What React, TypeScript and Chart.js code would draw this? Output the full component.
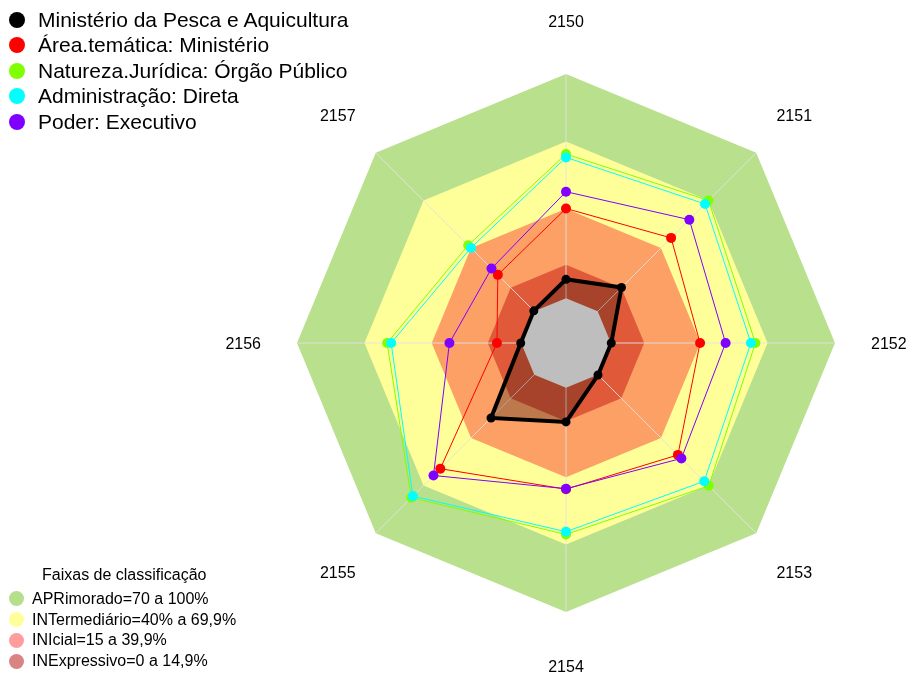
import React, { useEffect, useRef } from "react";
import { Chart, registerables } from "chart.js";

Chart.register(...registerables);

// ---------- data ----------
const axisLabels = ["2150", "2151", "2152", "2153", "2154", "2155", "2156", "2157"];

const ministerio = [8.4, 15, 0.2, 0.2, 15.2, 27.3, 0.2, 0.3];
const areaTematica = [40, 46.3, 39.8, 50.6, 45.2, 59.3, 10.8, 23];
const naturezaJuridica = [64.3, 69.9, 64.5, 70.1, 65.4, 77.6, 59.8, 41.7];
const administracao = [62.8, 67.7, 62.5, 67.2, 64.2, 76.6, 58, 40];
const poder = [47.5, 57.8, 51.2, 52.8, 45, 63.6, 32, 27];

const seriesNames = [
  "Ministério da Pesca e Aquicultura",
  "Área.temática: Ministério",
  "Natureza.Jurídica: Órgão Público",
  "Administração: Direta",
  "Poder: Executivo",
];
const seriesColors = ["#000000", "#FF0000", "#7FFF00", "#00FFFF", "#8000FF"];

// classification bands (upper limit of each band), plus the centre (0)
const bandLimits = [100, 69.9, 39.9, 14.9];
const centreValue = 0;
const bandColors = ["#B9E08C", "#FFFF99", "#FCA066", "#E05A3A"];
const centreColor = "#BEBEBE";

const bandLegendTitle = "Faixas de classificação";
const bandLegendLabels = [
  "APRimorado=70 a 100%",
  "INTermediário=40% a 69,9%",
  "INIcial=15 a 39,9%",
  "INExpressivo=0 a 14,9%",
];
const bandLegendColors = ["#B5DF8A", "#FFFF99", "#FF9C9C", "#D98383"];

const scaleMin = -20;
const scaleMax = 100;

const FONT = '"Liberation Sans", Arial, sans-serif';

export default function App() {
  const canvasRef = useRef<HTMLCanvasElement | null>(null);

  useEffect(() => {
    const canvas = canvasRef.current;
    if (!canvas) return;

    const bandDatasets = bandLimits.map((lim, i) => ({
      label: "band" + i,
      data: axisLabels.map(() => lim),
      backgroundColor: bandColors[i],
      borderColor: "transparent",
      borderWidth: 0,
      pointRadius: 0,
      fill: "start",
      order: 20 - i,
    }));

    const blackFill = {
      label: "blackFill",
      data: ministerio,
      backgroundColor: "rgba(0,0,0,0.25)",
      borderColor: "transparent",
      borderWidth: 0,
      pointRadius: 0,
      fill: "start",
      order: 15,
    };

    const centre = {
      label: "centre",
      data: axisLabels.map(() => centreValue),
      backgroundColor: centreColor,
      borderColor: "transparent",
      borderWidth: 0,
      pointRadius: 0,
      fill: "start",
      order: 14,
    };

    const seriesData = [ministerio, areaTematica, naturezaJuridica, administracao, poder];
    const lineDatasets = seriesData.map((d, i) => ({
      label: seriesNames[i],
      data: d,
      borderColor: seriesColors[i],
      backgroundColor: seriesColors[i],
      pointBackgroundColor: seriesColors[i],
      pointBorderColor: seriesColors[i],
      borderWidth: i === 0 ? 4 : 1,
      pointRadius: i === 0 ? 4.5 : 5,
      pointBorderWidth: 0,
      fill: false,
      order: 4 - i,
    }));

    const spokesPlugin = {
      id: "spokes",
      afterDatasetDraw(chart: any, args: any) {
        if (args.index !== bandLimits.length - 1) return;
        const scale = chart.scales.r;
        const ctx = chart.ctx;
        ctx.save();
        ctx.strokeStyle = "rgba(225,225,225,0.9)";
        ctx.lineWidth = 1;
        for (let i = 0; i < axisLabels.length; i++) {
          const p = scale.getPointPositionForValue(i, scaleMax);
          ctx.beginPath();
          ctx.moveTo(scale.xCenter, scale.yCenter);
          ctx.lineTo(p.x, p.y);
          ctx.stroke();
        }
        ctx.restore();
      },
    };

    const labelsPlugin = {
      id: "axisLabels",
      afterDraw(chart: any) {
        const scale = chart.scales.r;
        const ctx = chart.ctx;
        ctx.save();
        ctx.font = "16px " + FONT;
        ctx.fillStyle = "#000000";
        ctx.textAlign = "center";
        ctx.textBaseline = "middle";
        const dist = scale.drawingArea * 1.2;
        axisLabels.forEach((lab, i) => {
          const p = scale.getPointPosition(i, dist);
          ctx.fillText(lab, p.x, p.y + 2);
        });
        ctx.restore();
      },
    };

    const chart = new Chart(canvas, {
      type: "radar",
      data: {
        labels: axisLabels,
        datasets: [...bandDatasets, blackFill, centre, ...lineDatasets] as any,
      },
      options: {
        responsive: false,
        animation: false,
        devicePixelRatio: 1,
        layout: { padding: { left: 297, right: 72, top: 74, bottom: 63 } },
        elements: { line: { tension: 0 } },
        plugins: {
          legend: { display: false },
          tooltip: { enabled: false },
        },
        scales: {
          r: {
            min: scaleMin,
            max: scaleMax,
            ticks: { display: false },
            grid: { display: false },
            angleLines: { display: false },
            pointLabels: { display: false },
          },
        },
      } as any,
      plugins: [spokesPlugin, labelsPlugin],
    });

    return () => chart.destroy();
  }, []);

  const topRowY = [19.5, 45, 70.5, 96, 121.5];
  const bottomRowY = [598.5, 619.5, 640, 661];

  return (
    <div
      style={{
        position: "absolute",
        left: 0,
        top: 0,
        width: 907,
        height: 675,
        background: "#ffffff",
        overflow: "hidden",
        fontFamily: FONT,
      }}
    >
      <canvas ref={canvasRef} width={907} height={675} style={{ position: "absolute", left: 0, top: 0 }} />
      {seriesNames.map((name, i) => (
        <div
          key={name}
          style={{
            position: "absolute",
            left: 9,
            top: topRowY[i] - 13,
            height: 26,
            display: "flex",
            alignItems: "center",
            whiteSpace: "nowrap",
          }}
        >
          <span
            style={{
              display: "inline-block",
              width: 16,
              height: 16,
              borderRadius: "50%",
              background: seriesColors[i],
              marginRight: 13,
            }}
          />
          <span style={{ fontSize: 21, color: "#000", lineHeight: "26px" }}>{name}</span>
        </div>
      ))}
      <div
        style={{
          position: "absolute",
          left: 42,
          top: 575 - 10,
          height: 20,
          fontSize: 16,
          lineHeight: "20px",
          whiteSpace: "nowrap",
          color: "#000",
        }}
      >
        {bandLegendTitle}
      </div>
      {bandLegendLabels.map((lab, i) => (
        <div
          key={lab}
          style={{
            position: "absolute",
            left: 9,
            top: bottomRowY[i] - 10,
            height: 20,
            display: "flex",
            alignItems: "center",
            whiteSpace: "nowrap",
          }}
        >
          <span
            style={{
              display: "inline-block",
              width: 15,
              height: 15,
              borderRadius: "50%",
              background: bandLegendColors[i],
              marginRight: 8,
            }}
          />
          <span style={{ fontSize: 16, color: "#000", lineHeight: "20px" }}>{lab}</span>
        </div>
      ))}
    </div>
  );
}
